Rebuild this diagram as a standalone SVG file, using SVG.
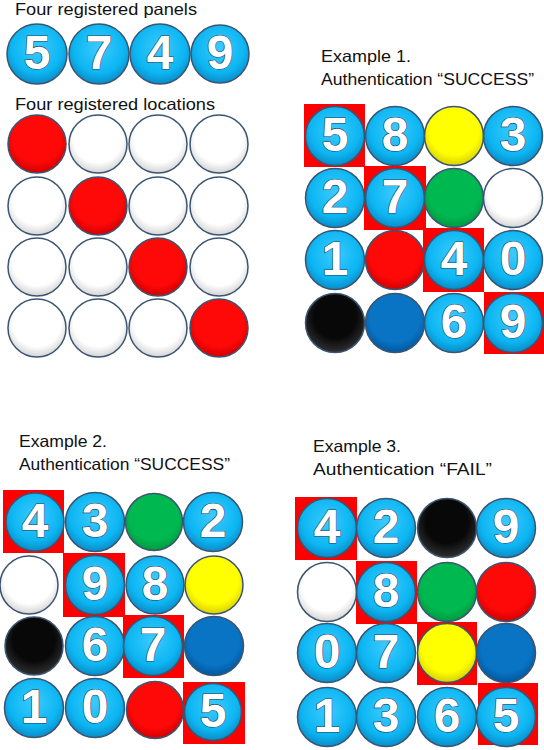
<svg xmlns="http://www.w3.org/2000/svg" width="544" height="750" viewBox="0 0 544 750">
<defs>
<radialGradient id="gb" cx="50%" cy="40%" r="60%"><stop offset="0" stop-color="#3ccaff"/><stop offset="0.7" stop-color="#0cb6f2"/><stop offset="1" stop-color="#0a8cc8"/></radialGradient>
<radialGradient id="gw" cx="50%" cy="40%" r="60%"><stop offset="0.7" stop-color="#ffffff"/><stop offset="1" stop-color="#d4d4d4"/></radialGradient>
<radialGradient id="gr" cx="50%" cy="40%" r="60%"><stop offset="0.7" stop-color="#ff0808"/><stop offset="1" stop-color="#d00000"/></radialGradient>
<radialGradient id="gy" cx="50%" cy="40%" r="60%"><stop offset="0.7" stop-color="#ffff00"/><stop offset="1" stop-color="#d8d000"/></radialGradient>
<radialGradient id="gg" cx="50%" cy="40%" r="60%"><stop offset="0.7" stop-color="#00b850"/><stop offset="1" stop-color="#009a40"/></radialGradient>
<radialGradient id="gd" cx="50%" cy="40%" r="60%"><stop offset="0.7" stop-color="#0a74c4"/><stop offset="1" stop-color="#0058a0"/></radialGradient>
<radialGradient id="gk" cx="50%" cy="40%" r="60%"><stop offset="0.6" stop-color="#080808"/><stop offset="1" stop-color="#303030"/></radialGradient>
</defs>
<style>
circle{stroke:#3a5572;stroke-width:1.5}
.b{fill:url(#gb)}.w{fill:url(#gw)}.r{fill:url(#gr)}.y{fill:url(#gy)}.g{fill:url(#gg)}.d{fill:url(#gd)}.k{fill:url(#gk)}
.sq{fill:#ff0000}
.n{font-family:"Liberation Sans",Arial,sans-serif;font-weight:bold;font-size:48px;fill:#ffffff;text-anchor:middle;stroke:#28425e;stroke-width:1.2;paint-order:stroke}
.t{font-family:"Liberation Sans",Arial,sans-serif;font-size:16.5px;fill:#111111}
</style>
<g id="labels">
<text class="t" x="15" y="15" textLength="182" lengthAdjust="spacingAndGlyphs">Four registered panels</text>
<text class="t" x="15" y="110" textLength="200" lengthAdjust="spacingAndGlyphs">Four registered locations</text>
<text class="t" x="321" y="62" textLength="90" lengthAdjust="spacingAndGlyphs">Example 1.</text>
<text class="t" x="321" y="85" textLength="213" lengthAdjust="spacingAndGlyphs">Authentication “SUCCESS”</text>
<text class="t" x="19" y="447" textLength="88" lengthAdjust="spacingAndGlyphs">Example 2.</text>
<text class="t" x="19" y="470" textLength="211" lengthAdjust="spacingAndGlyphs">Authentication “SUCCESS”</text>
<text class="t" x="313" y="452" textLength="88" lengthAdjust="spacingAndGlyphs">Example 3.</text>
<text class="t" x="313" y="475" textLength="179" lengthAdjust="spacingAndGlyphs">Authentication “FAIL”</text>
</g>
<g id="panels">
<circle class="b" cx="37" cy="54" r="30"/><text class="n" x="37" y="69">5</text>
<circle class="b" cx="99" cy="54" r="30"/><text class="n" x="99" y="69">7</text>
<circle class="b" cx="160" cy="54" r="30"/><text class="n" x="160" y="69">4</text>
<circle class="b" cx="220" cy="54" r="29"/><text class="n" x="220" y="69">9</text>
</g>
<g id="locations">
<circle class="r" cx="37" cy="144" r="29"/><circle class="w" cx="98" cy="144" r="29"/><circle class="w" cx="158" cy="144" r="29"/><circle class="w" cx="219" cy="144" r="29"/>
<circle class="w" cx="37" cy="206" r="29"/><circle class="r" cx="98" cy="206" r="29"/><circle class="w" cx="158" cy="206" r="29"/><circle class="w" cx="219" cy="206" r="29"/>
<circle class="w" cx="37" cy="267" r="29"/><circle class="w" cx="98" cy="267" r="29"/><circle class="r" cx="158" cy="267" r="29"/><circle class="w" cx="219" cy="267" r="29"/>
<circle class="w" cx="37" cy="328" r="29"/><circle class="w" cx="98" cy="328" r="29"/><circle class="w" cx="158" cy="328" r="29"/><circle class="r" cx="219" cy="328" r="29"/>
</g>
<g id="example1">
<rect class="sq" x="304" y="104" width="61" height="63"/>
<rect class="sq" x="364" y="166" width="62" height="64"/>
<rect class="sq" x="423" y="228" width="61" height="64"/>
<rect class="sq" x="484" y="292" width="60" height="62"/>
<circle class="b" cx="335" cy="136" r="29.5"/><text class="n" x="335" y="151">5</text>
<circle class="b" cx="395" cy="136" r="29.5"/><text class="n" x="395" y="151">8</text>
<circle class="y" cx="454" cy="136" r="29.5"/>
<circle class="b" cx="513" cy="136" r="29.5"/><text class="n" x="513" y="151">3</text>
<circle class="b" cx="335" cy="198" r="29.5"/><text class="n" x="335" y="213">2</text>
<circle class="b" cx="395" cy="198" r="29.5"/><text class="n" x="395" y="213">7</text>
<circle class="g" cx="454" cy="198" r="29.5"/>
<circle class="w" cx="513" cy="198" r="29.5"/>
<circle class="b" cx="335" cy="260" r="29.5"/><text class="n" x="335" y="275">1</text>
<circle class="r" cx="395" cy="260" r="29.5"/>
<circle class="b" cx="454" cy="260" r="29.5"/><text class="n" x="454" y="275">4</text>
<circle class="b" cx="513" cy="260" r="29.5"/><text class="n" x="513" y="275">0</text>
<circle class="k" cx="335" cy="323" r="29.5"/>
<circle class="d" cx="395" cy="323" r="29.5"/>
<circle class="b" cx="454" cy="323" r="29.5"/><text class="n" x="454" y="338">6</text>
<circle class="b" cx="513" cy="323" r="29.5"/><text class="n" x="513" y="338">9</text>
</g>
<g id="example2">
<rect class="sq" x="3" y="490" width="61" height="63"/>
<rect class="sq" x="63" y="553" width="62" height="64"/>
<rect class="sq" x="123" y="615" width="61" height="63"/>
<rect class="sq" x="183" y="682" width="62" height="62"/>
<circle class="b" cx="35" cy="522" r="29"/><text class="n" x="35" y="537">4</text>
<circle class="b" cx="95" cy="522" r="29.5"/><text class="n" x="95" y="537">3</text>
<circle class="g" cx="154" cy="522" r="28.5"/>
<circle class="b" cx="213" cy="522" r="29.5"/><text class="n" x="213" y="537">2</text>
<circle class="w" cx="29" cy="585" r="29"/>
<circle class="b" cx="95" cy="585" r="29.5"/><text class="n" x="95" y="600">9</text>
<circle class="b" cx="155" cy="585" r="29"/><text class="n" x="155" y="600">8</text>
<circle class="y" cx="214" cy="585" r="29"/>
<circle class="k" cx="34" cy="646" r="29"/>
<circle class="b" cx="95" cy="646" r="29.5"/><text class="n" x="95" y="661">6</text>
<circle class="b" cx="153" cy="646" r="29.5"/><text class="n" x="153" y="661">7</text>
<circle class="d" cx="214" cy="646" r="29.5"/>
<circle class="b" cx="34" cy="708" r="29.5"/><text class="n" x="34" y="723">1</text>
<circle class="b" cx="95" cy="708" r="29.5"/><text class="n" x="95" y="723">0</text>
<circle class="r" cx="155" cy="710" r="28.5"/>
<circle class="b" cx="213" cy="712" r="28.5"/><text class="n" x="213" y="727">5</text>
</g>
<g id="example3">
<rect class="sq" x="295" y="497" width="62" height="63"/>
<rect class="sq" x="356" y="561" width="61" height="63"/>
<rect class="sq" x="417" y="622" width="60" height="63"/>
<rect class="sq" x="478" y="683" width="60" height="62"/>
<circle class="b" cx="327" cy="528" r="29.5"/><text class="n" x="327" y="543">4</text>
<circle class="b" cx="386" cy="528" r="29.5"/><text class="n" x="386" y="543">2</text>
<circle class="k" cx="447" cy="528" r="29.5"/>
<circle class="b" cx="506" cy="528" r="29.5"/><text class="n" x="506" y="543">9</text>
<circle class="w" cx="327" cy="592" r="29.5"/>
<circle class="b" cx="386" cy="592" r="29.5"/><text class="n" x="386" y="607">8</text>
<circle class="g" cx="447" cy="592" r="29.5"/>
<circle class="r" cx="506" cy="592" r="29.5"/>
<circle class="b" cx="327" cy="653" r="29.5"/><text class="n" x="327" y="668">0</text>
<circle class="b" cx="386" cy="653" r="29.5"/><text class="n" x="386" y="668">7</text>
<circle class="y" cx="447" cy="653" r="29.5"/>
<circle class="d" cx="506" cy="653" r="29.5"/>
<circle class="b" cx="327" cy="717" r="29.5"/><text class="n" x="327" y="732">1</text>
<circle class="b" cx="386" cy="717" r="29.5"/><text class="n" x="386" y="732">3</text>
<circle class="b" cx="447" cy="717" r="29.5"/><text class="n" x="447" y="732">6</text>
<circle class="b" cx="506" cy="717" r="29.5"/><text class="n" x="506" y="732">5</text>
</g>
</svg>
